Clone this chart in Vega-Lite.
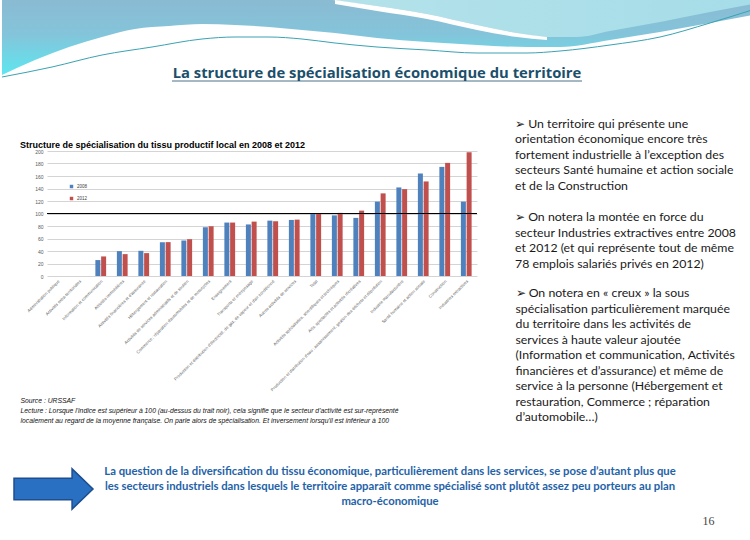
{
  "$schema": "https://vega.github.io/schema/vega-lite/v6.json",
  "padding": 0,
  "background": "white",
  "spacing": 25,
  "config": {"view": {"stroke": null}, "font": "Liberation Sans"},
  "datasets": {
    "bars": [
      {"secteur": "Information et communication", "annee": "2008", "indice": 25.5},
      {"secteur": "Information et communication", "annee": "2012", "indice": 31.3},
      {"secteur": "Activités immobilières", "annee": "2008", "indice": 39.8},
      {"secteur": "Activités immobilières", "annee": "2012", "indice": 35},
      {"secteur": "Activités financières et d'assurance", "annee": "2008", "indice": 40.3},
      {"secteur": "Activités financières et d'assurance", "annee": "2012", "indice": 36.6},
      {"secteur": "Hébergement et restauration", "annee": "2008", "indice": 54},
      {"secteur": "Hébergement et restauration", "annee": "2012", "indice": 54.2},
      {"secteur": "Activités de services administratifs et de soutien", "annee": "2008", "indice": 56.8},
      {"secteur": "Activités de services administratifs et de soutien", "annee": "2012", "indice": 58.9},
      {"secteur": "Commerce ; réparation d'automobiles et de motocycles", "annee": "2008", "indice": 78},
      {"secteur": "Commerce ; réparation d'automobiles et de motocycles", "annee": "2012", "indice": 79.6},
      {"secteur": "Enseignement", "annee": "2008", "indice": 85.5},
      {"secteur": "Enseignement", "annee": "2012", "indice": 85.5},
      {"secteur": "Transports et entreposage", "annee": "2008", "indice": 82.5},
      {"secteur": "Transports et entreposage", "annee": "2012", "indice": 87},
      {"secteur": "Production et distribution d'électricité, de gaz, de vapeur et d'air conditionné", "annee": "2008", "indice": 88.6},
      {"secteur": "Production et distribution d'électricité, de gaz, de vapeur et d'air conditionné", "annee": "2012", "indice": 87.6},
      {"secteur": "Autres activités de services", "annee": "2008", "indice": 89.7},
      {"secteur": "Autres activités de services", "annee": "2012", "indice": 90.2},
      {"secteur": "Total", "annee": "2008", "indice": 100},
      {"secteur": "Total", "annee": "2012", "indice": 100},
      {"secteur": "Activités spécialisées, scientifiques et techniques", "annee": "2008", "indice": 97},
      {"secteur": "Activités spécialisées, scientifiques et techniques", "annee": "2012", "indice": 101},
      {"secteur": "Arts, spectacles et activités récréatives", "annee": "2008", "indice": 93},
      {"secteur": "Arts, spectacles et activités récréatives", "annee": "2012", "indice": 104.6},
      {"secteur": "Production et distribution d'eau ; assainissement, gestion des déchets et dépollution", "annee": "2008", "indice": 119},
      {"secteur": "Production et distribution d'eau ; assainissement, gestion des déchets et dépollution", "annee": "2012", "indice": 132.2},
      {"secteur": "Industrie manufacturière", "annee": "2008", "indice": 141.7},
      {"secteur": "Industrie manufacturière", "annee": "2012", "indice": 139},
      {"secteur": "Santé humaine et action sociale", "annee": "2008", "indice": 164},
      {"secteur": "Santé humaine et action sociale", "annee": "2012", "indice": 151.3},
      {"secteur": "Construction", "annee": "2008", "indice": 174.6},
      {"secteur": "Construction", "annee": "2012", "indice": 181},
      {"secteur": "Industries extractives", "annee": "2008", "indice": 119},
      {"secteur": "Industries extractives", "annee": "2012", "indice": 198}
    ],
    "waveA": [
      {"x": 0, "b": 75}, {"x": 33, "b": 60}, {"x": 67, "b": 47}, {"x": 100, "b": 37}, {"x": 133, "b": 29},
      {"x": 167, "b": 26}, {"x": 200, "b": 24}, {"x": 233, "b": 25}, {"x": 267, "b": 27}, {"x": 300, "b": 30},
      {"x": 333, "b": 33}, {"x": 375, "b": 38}, {"x": 425, "b": 42}, {"x": 475, "b": 45}, {"x": 525, "b": 47},
      {"x": 558, "b": 47}, {"x": 608, "b": 40}, {"x": 658, "b": 32}, {"x": 708, "b": 23}, {"x": 750, "b": 15}
    ],
    "waveB": [
      {"x": 330, "b": 0}, {"x": 375, "b": 6}, {"x": 425, "b": 14}, {"x": 475, "b": 25}, {"x": 515, "b": 33},
      {"x": 545, "b": 37}, {"x": 575, "b": 37}, {"x": 608, "b": 31}, {"x": 658, "b": 22}, {"x": 708, "b": 12}, {"x": 750, "b": 4}
    ],
    "ribbon": [
      {"x": 333, "t": 0, "u": 4}, {"x": 375, "t": 6, "u": 11}, {"x": 425, "t": 14, "u": 19},
      {"x": 475, "t": 25, "u": 30}, {"x": 515, "t": 33, "u": 37}, {"x": 545, "t": 37, "u": 40}
    ],
    "thinLine": [
      {"x": 0, "b": 77}, {"x": 50, "b": 67}, {"x": 100, "b": 55}, {"x": 150, "b": 47}, {"x": 200, "b": 39},
      {"x": 233, "b": 37}, {"x": 267, "b": 37}, {"x": 300, "b": 39}, {"x": 333, "b": 43}, {"x": 375, "b": 47},
      {"x": 425, "b": 50}, {"x": 475, "b": 53}, {"x": 525, "b": 53}, {"x": 558, "b": 51}, {"x": 608, "b": 45},
      {"x": 658, "b": 37}, {"x": 708, "b": 23}, {"x": 750, "b": 10}
    ]
  },
  "vconcat": [
    {
      "width": 750,
      "height": 92,
      "title": {
        "text": "La structure de spécialisation économique du territoire",
        "orient": "bottom", "offset": -26, "anchor": "middle", "frame": "group",
        "font": "Open Sans", "fontSize": 14.8, "fontWeight": "bold", "color": "#1b4f6b"
      },
      "layer": [
        {
          "data": {"name": "waveA"},
          "mark": {"type": "area", "interpolate": "monotone", "color": {"gradient": "linear", "x1": 0, "y1": 0, "x2": 0, "y2": 1, "stops": [{"offset": 0, "color": "#8abbd3"}, {"offset": 0.45, "color": "#84c4da"}, {"offset": 1, "color": "#5ee6ef"}]}},
          "encoding": {
            "x": {"field": "x", "type": "quantitative", "scale": {"domain": [0, 750], "nice": false, "zero": false}, "axis": null},
            "y": {"field": "b", "type": "quantitative", "scale": {"domain": [0, 92], "nice": false, "zero": false, "reverse": true}, "axis": null},
            "y2": {"datum": 0}
          }
        },
        {
          "data": {"name": "waveB"},
          "mark": {"type": "area", "interpolate": "monotone", "color": {"gradient": "linear", "x1": 0, "y1": 0, "x2": 1, "y2": 0, "stops": [{"offset": 0, "color": "#b4e2ea"}, {"offset": 1, "color": "#a6dde8"}]}},
          "encoding": {
            "x": {"field": "x", "type": "quantitative"},
            "y": {"field": "b", "type": "quantitative"},
            "y2": {"datum": 0}
          }
        },
        {
          "data": {"name": "ribbon"},
          "mark": {"type": "area", "interpolate": "monotone", "color": "#ffffff"},
          "encoding": {
            "x": {"field": "x", "type": "quantitative"},
            "y": {"field": "u", "type": "quantitative"},
            "y2": {"field": "t"}
          }
        },
        {
          "data": {"name": "thinLine"},
          "mark": {"type": "line", "interpolate": "monotone", "color": "#3aa3b3", "strokeWidth": 1},
          "encoding": {
            "x": {"field": "x", "type": "quantitative"},
            "y": {"field": "b", "type": "quantitative"}
          }
        },
        {
          "data": {"values": [{}]},
          "mark": {"type": "rule", "color": "#1b4f6b", "strokeWidth": 0.8},
          "encoding": {"x": {"datum": 170}, "x2": {"datum": 580}, "y": {"datum": 81}}
        }
      ]
    },
    {
      "hconcat": [
        {"width": 7, "height": 1, "data": {"values": []}, "mark": "point"},
        {
          "width": 430,
          "height": 125,
          "data": {"name": "bars"},
          "title": {
            "text": "Structure de spécialisation du tissu productif local en 2008 et 2012",
            "anchor": "start", "frame": "bounds", "offset": -1,
            "font": "Liberation Sans", "fontSize": 9, "fontWeight": "bold", "color": "#000000"
          },
          "layer": [
            {
              "mark": {"type": "bar"},
              "encoding": {
                "x": {
                  "field": "secteur", "type": "nominal",
                  "scale": {"domain": [
                    "Administration publique",
                    "Activités extra-territoriales",
                    "Information et communication",
                    "Activités immobilières",
                    "Activités financières et d'assurance",
                    "Hébergement et restauration",
                    "Activités de services administratifs et de soutien",
                    "Commerce ; réparation d'automobiles et de motocycles",
                    "Enseignement",
                    "Transports et entreposage",
                    "Production et distribution d'électricité, de gaz, de vapeur et d'air conditionné",
                    "Autres activités de services",
                    "Total",
                    "Activités spécialisées, scientifiques et techniques",
                    "Arts, spectacles et activités récréatives",
                    "Production et distribution d'eau ; assainissement, gestion des déchets et dépollution",
                    "Industrie manufacturière",
                    "Santé humaine et action sociale",
                    "Construction",
                    "Industries extractives"
                  ], "paddingInner": 0.5, "paddingOuter": 0.25},
                  "axis": {
                    "labelAngle": -45, "labelFontSize": 4.2, "labelColor": "#595959", "labelLimit": 0,
                    "ticks": false, "domain": false, "labelPadding": 3,
                    "title": [
                      "Source : URSSAF",
                      "Lecture : Lorsque l'indice est supérieur à 100 (au-dessus du trait noir), cela signifie que le secteur d'activité est sur-représenté",
                      "localement au regard de la moyenne française. On parle alors de spécialisation. Et inversement lorsqu'il est inférieur à 100"
                    ],
                    "titleFont": "Liberation Sans", "titleFontSize": 6.8, "titleFontStyle": "italic", "titleFontWeight": "normal",
                    "titleColor": "#111111", "titleAlign": "left", "titleAnchor": "start", "titleX": -27, "titleY": 121,
                    "titleBaseline": "top", "titleLineHeight": 10
                  }
                },
                "xOffset": {"field": "annee", "type": "nominal", "scale": {"paddingInner": 0.13, "paddingOuter": 0}},
                "y": {
                  "field": "indice", "type": "quantitative",
                  "scale": {"domain": [0, 200], "nice": false},
                  "axis": {
                    "values": [0, 20, 40, 60, 80, 100, 120, 140, 160, 180, 200],
                    "labelFontSize": 5, "labelColor": "#595959", "ticks": false, "domain": false, "labelOverlap": false,
                    "grid": true, "gridColor": "#d4d4d4", "gridWidth": 1, "title": null, "labelPadding": 4
                  }
                },
                "color": {
                  "field": "annee", "type": "nominal",
                  "scale": {"domain": ["2008", "2012"], "range": ["#4f81bd", "#c0504d"]},
                  "legend": {
                    "orient": "none", "legendX": 67, "legendY": 184, "title": null,
                    "labelFontSize": 4.5, "labelColor": "#404040", "symbolType": "square", "symbolSize": 12,
                    "rowPadding": 6, "labelOffset": 3
                  }
                }
              }
            },
            {
              "data": {"values": [{}]},
              "mark": {"type": "rule", "color": "#000000", "strokeWidth": 1},
              "encoding": {
                "y": {
                  "datum": 100, "type": "quantitative",
                  "axis": {
                    "values": [0, 20, 40, 60, 80, 100, 120, 140, 160, 180, 200],
                    "labelFontSize": 5, "labelColor": "#595959", "ticks": false, "domain": false, "labelOverlap": false,
                    "grid": true, "gridColor": "#d4d4d4", "gridWidth": 1, "title": null, "labelPadding": 4
                  }
                }
              }
            }
          ]
        },
        {
          "width": 1,
          "height": 272,
          "data": {"values": [{"t": "➢ On notera en « creux » la sous\nspécialisation particulièrement marquée\ndu territoire dans les activités de\nservices à haute valeur ajoutée\n(Information et communication, Activités\nfinancières et d’assurance) et même de\nservice à la personne (Hébergement et\nrestauration, Commerce ; réparation\nd’automobile…)"}]},
          "mark": {
            "type": "text", "lineBreak": "\n", "align": "left", "baseline": "top",
            "font": "Lato", "fontSize": 12.3, "color": "#1a1a1a", "lineHeight": 15.5
          },
          "encoding": {"text": {"field": "t", "type": "nominal"}},
          "title": {
            "text": [
              "➢ Un territoire qui présente une",
              "orientation économique encore très",
              "fortement industrielle à l’exception des",
              "secteurs Santé humaine et action sociale",
              "et de la Construction"
            ],
            "subtitle": [
              "➢ On notera la montée en force du",
              "secteur Industries extractives entre 2008",
              "et 2012 (et qui représente tout de même",
              "78 emplois salariés privés en 2012)"
            ],
            "orient": "top", "anchor": "start", "frame": "group", "offset": -119,
            "font": "Lato", "fontSize": 12.3, "fontWeight": "normal", "color": "#1a1a1a",
            "lineHeight": 15.5, "align": "left", "baseline": "top", "limit": 0,
            "subtitleFont": "Lato", "subtitleFontSize": 12.3, "subtitleFontWeight": "normal", "subtitleColor": "#1a1a1a",
            "subtitleLineHeight": 15.5, "subtitlePadding": 19
          }
        }
      ],
      "spacing": 38,
      "bounds": "flush"
    },
    {
      "hconcat": [
        {
          "width": 103, "height": 80,
          "data": {"values": [{}]},
          "mark": {
            "type": "point",
            "shape": "M-1,-0.27L0.47,-0.27L0.47,-0.51L1,0L0.47,0.51L0.47,0.27L-1,0.27Z",
            "size": 6241, "filled": true, "fill": "#2a70c2", "stroke": "#1d4e8f", "strokeWidth": 1.5, "opacity": 1
          }
        },
        {
          "width": 570, "height": 46,
          "data": {"values": [{"t": "La question de la diversification du tissu économique, particulièrement dans les services, se pose d’autant plus que\nles secteurs industriels dans lesquels le territoire apparaît comme spécialisé sont plutôt assez peu porteurs au plan\nmacro-économique"}]},
          "mark": {
            "type": "text", "lineBreak": "\n", "align": "center", "baseline": "middle",
            "font": "Lato", "fontSize": 11.3, "fontWeight": "bold", "color": "#2462a8", "lineHeight": 15
          },
          "encoding": {"text": {"field": "t", "type": "nominal"}}
        },
        {
          "width": 67, "height": 20,
          "data": {"values": []},
          "mark": "point",
          "title": {
            "text": "16", "orient": "bottom", "offset": 47, "anchor": "middle", "frame": "group",
            "font": "Liberation Serif", "fontSize": 12, "fontWeight": "normal", "color": "#444444"
          }
        }
      ],
      "spacing": 0,
      "bounds": "flush"
    }
  ]
}
